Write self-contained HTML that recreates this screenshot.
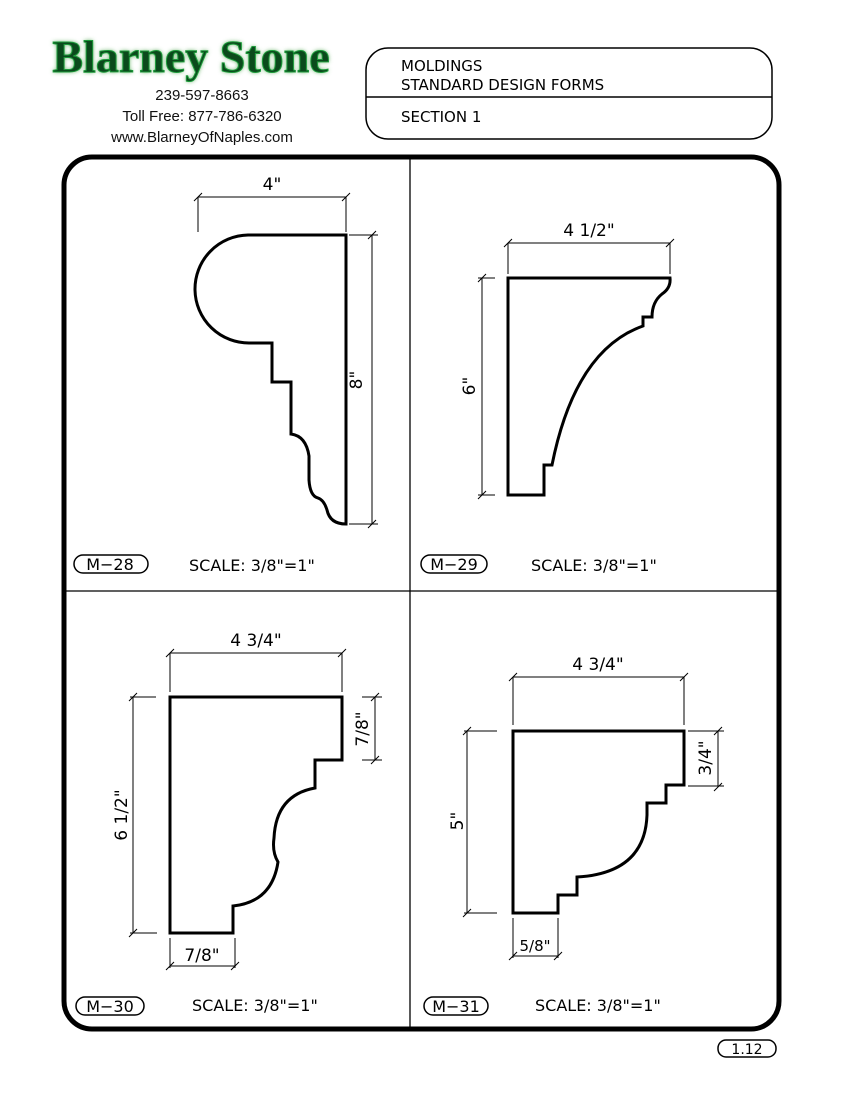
<!DOCTYPE html>
<html><head><meta charset="utf-8"><style>
body{margin:0;background:#fff;}
svg{display:block}
.t{font-family:"DejaVu Sans","Liberation Sans",sans-serif;fill:#000}
</style></head><body>
<svg width="850" height="1100" viewBox="0 0 850 1100" xmlns="http://www.w3.org/2000/svg">
<rect width="850" height="1100" fill="#fff"/>
<defs><filter id="sh"><feGaussianBlur stdDeviation="2"/></filter></defs>
<text x="191" y="72" text-anchor="middle" font-family="Liberation Serif,serif" font-size="46" font-weight="bold" fill="#5a5" filter="url(#sh)">Blarney Stone</text>
<text x="191" y="72" text-anchor="middle" font-family="Liberation Serif,serif" font-size="46" font-weight="bold" fill="#0b4a1c" stroke="#1c9a3a" stroke-width="1">Blarney Stone</text>
<g font-family="Liberation Sans,sans-serif" font-size="15" text-anchor="middle" fill="#111">
<text x="202" y="100">239-597-8663</text>
<text x="202" y="121">Toll Free: 877-786-6320</text>
<text x="202" y="142">www.BlarneyOfNaples.com</text>
</g>
<rect x="366" y="48" width="406" height="91" rx="22" fill="none" stroke="#000" stroke-width="1.5"/>
<line x1="366" y1="97" x2="772" y2="97" stroke="#000" stroke-width="1.5"/>
<g class="t" font-size="15">
<text x="401" y="71">MOLDINGS</text>
<text x="401" y="90">STANDARD DESIGN FORMS</text>
<text x="401" y="122">SECTION 1</text>
</g>
<rect x="64" y="157" width="715" height="872" rx="28" fill="none" stroke="#000" stroke-width="5"/>
<line x1="410" y1="158" x2="410" y2="1028" stroke="#000" stroke-width="1.3"/>
<line x1="64" y1="591" x2="779" y2="591" stroke="#000" stroke-width="1.3"/>
<g fill="none" stroke="#000" stroke-width="3" stroke-linejoin="miter">
<path d="M248,235 H346 V524 Q330,524 327,510 Q324,500 318,498 Q310,496 309,480 V456 Q306,436 291,434 V382 H272 V343 H250 A54,54 0 0 1 248,235 Z"/>
<path d="M508,278 H670 Q671,288 662,294 Q652,302 652,317 H643 V326 Q575,350 552,465 H544 V495 H508 Z"/>
<path d="M170,697 H342 V760 H315 V788 Q276,795 274,838 Q272,852 278,862 Q272,902 233,906 V933 H170 Z"/>
<path d="M513,731 H684 V785 H666 V803 H647 V815 Q645,873 577,877 V895 H558 V913 H513 Z"/>
</g>
<g stroke="#000" stroke-width="1" fill="none">
<path d="M198,197 H346 M198,197 V232 M346,197 V232 M194,201 l8,-8 M342,201 l8,-8"/>
<path d="M372,235 V524 M349,235 H378 M349,524 H378 M368,239 l8,-8 M368,528 l8,-8"/>
<path d="M508,243 H670 M508,243 V274 M670,243 V274 M504,247 l8,-8 M666,247 l8,-8"/>
<path d="M482,278 V495 M478,278 H495 M478,495 H495 M478,282 l8,-8 M478,499 l8,-8"/>
<path d="M170,653 H342 M170,653 V692 M342,653 V692 M166,657 l8,-8 M338,657 l8,-8"/>
<path d="M133,697 V933 M130,697 H156 M130,933 H157 M129,701 l8,-8 M129,937 l8,-8"/>
<path d="M375,697 V760 M362,697 H382 M362,760 H382 M371,701 l8,-8 M371,764 l8,-8"/>
<path d="M170,966 H235 M170,938 V968 M235,938 V968 M166,970 l8,-8 M231,970 l8,-8"/>
<path d="M513,677 H684 M513,677 V725 M684,677 V725 M509,681 l8,-8 M680,681 l8,-8"/>
<path d="M467,731 V913 M464,731 H497 M464,913 H497 M463,735 l8,-8 M463,917 l8,-8"/>
<path d="M718,731 V787 M688,731 H724 M688,786 H724 M714,735 l8,-8 M714,791 l8,-8"/>
<path d="M513,956 H558 M513,918 V958 M558,918 V958 M509,960 l8,-8 M554,960 l8,-8"/>
</g>
<g class="t" font-size="17">
<text x="272" y="190" text-anchor="middle">4"</text>
<text x="589" y="236" text-anchor="middle">4 1/2"</text>
<text x="256" y="646" text-anchor="middle">4 3/4"</text>
<text x="598" y="670" text-anchor="middle">4 3/4"</text>
<text x="202" y="961" text-anchor="middle">7/8"</text>
<text x="535" y="951" text-anchor="middle" font-size="15">5/8"</text>
<text transform="translate(362,380) rotate(-90)" text-anchor="middle">8"</text>
<text transform="translate(475,386) rotate(-90)" text-anchor="middle">6"</text>
<text transform="translate(127,815) rotate(-90)" text-anchor="middle">6 1/2"</text>
<text transform="translate(368,729) rotate(-90)" text-anchor="middle">7/8"</text>
<text transform="translate(463,821) rotate(-90)" text-anchor="middle">5"</text>
<text transform="translate(711,758) rotate(-90)" text-anchor="middle">3/4"</text>
</g>
<g fill="none" stroke="#000" stroke-width="1.5">
<rect x="74" y="555" width="74" height="18" rx="9"/>
<rect x="421" y="555" width="66" height="18" rx="9"/>
<rect x="76" y="997" width="68" height="18" rx="9"/>
<rect x="424" y="997" width="64" height="18" rx="9"/>
<rect x="718" y="1040" width="58" height="17" rx="8"/>
</g>
<g class="t" font-size="16">
<text x="110" y="570" text-anchor="middle">M−28</text>
<text x="454" y="570" text-anchor="middle">M−29</text>
<text x="110" y="1012" text-anchor="middle">M−30</text>
<text x="456" y="1012" text-anchor="middle">M−31</text>
<text x="747" y="1054" text-anchor="middle" font-size="14">1.12</text>
<text x="189" y="571">SCALE: 3/8"=1"</text>
<text x="531" y="571">SCALE: 3/8"=1"</text>
<text x="192" y="1011">SCALE: 3/8"=1"</text>
<text x="535" y="1011">SCALE: 3/8"=1"</text>
</g>
</svg>
</body></html>
